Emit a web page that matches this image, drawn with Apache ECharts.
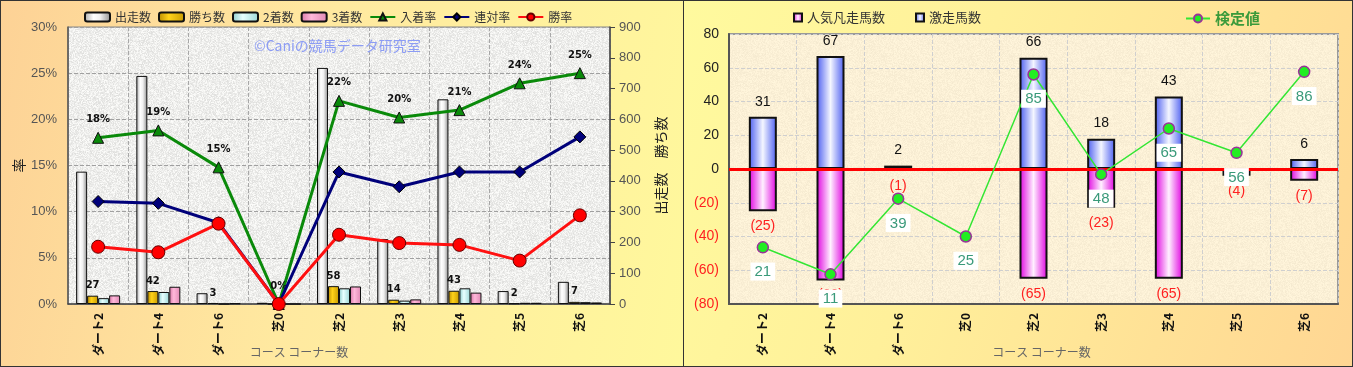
<!DOCTYPE html>
<html><head><meta charset="utf-8">
<script src="https://cdn.jsdelivr.net/npm/echarts@6/dist/echarts.min.js"></script>
<style>
html,body{margin:0;padding:0;width:1353px;height:367px;overflow:hidden;background:#fff;}
#c1{position:absolute;left:0;top:0;width:682px;height:365px;border:1px solid #333;
 background:linear-gradient(100deg,#FDD296 0%,#FFE9A0 45%,#FFF89C 100%);}
#c2{position:absolute;left:683px;top:0;width:668px;height:365px;border:1px solid #333;
 background:linear-gradient(110deg,#FFFA9E 0%,#FFF09A 40%,#FFD693 100%);}
</style></head>
<body><div id="c1"></div><div id="c2"></div>
<script>
// ---- data ----
const categories = ['ダート2','ダート4','ダート6','芝0','芝2','芝3','芝4','芝5','芝6'];
const starts  = [430, 741, 35, 4, 767, 211, 665, 42, 72];
const wins    = [27, 42, 3, 0, 58, 14, 43, 2, 7];
const seconds = [19, 39, 0, 0, 51, 11, 51, 4, 6];
const thirds  = [28, 56, 2, 0, 57, 15, 37, 4, 5];
const placeRate  = [18.0, 18.8, 14.8, 0, 22.0, 20.2, 21.0, 23.9, 25.0];
const rentaiRate = [11.1, 10.9, 8.8, 0, 14.3, 12.7, 14.3, 14.3, 18.1];
const winRate    = [6.2, 5.6, 8.7, 0, 7.5, 6.6, 6.4, 4.7, 9.6];

const gekisou     = [31, 67, 2, 0, 66, 18, 43, 0, 6];
const ninkiBonsou = [-25, -66, -1, 0, -65, -23, -65, -4, -7];
const kenteichi   = [21, 11, 39, 25, 85, 48, 65, 56, 86];

// ---- textures (deterministic) ----
function texture(base, amp, seed){
  const N = 128;
  const cv = document.createElement('canvas'); cv.width = N; cv.height = N;
  const ctx = cv.getContext('2d'); const img = ctx.createImageData(N, N);
  for (let i = 0; i < N*N; i++){
    let h = Math.sin((i+seed)*12.9898 + (i%N)*78.233) * 43758.5453; h = h - Math.floor(h);
    const d = (h - 0.5) * amp;
    img.data[i*4] = Math.max(0,Math.min(255, base[0]+d));
    img.data[i*4+1] = Math.max(0,Math.min(255, base[1]+d));
    img.data[i*4+2] = Math.max(0,Math.min(255, base[2]+d));
    img.data[i*4+3] = 255;
  }
  ctx.putImageData(img, 0, 0);
  const cv2 = document.createElement('canvas'); cv2.width = N; cv2.height = N;
  const c2 = cv2.getContext('2d'); c2.filter = 'blur(0.6px)'; c2.drawImage(cv, 0, 0);
  return cv2;
}
const grayTex = texture([238,238,236], 30, 1);
const paperTex = texture([251,240,214], 12, 7);

const JP = "'Noto Sans CJK JP', sans-serif";
const ARIAL = "'Liberation Sans', Arial, sans-serif";

function hgrad(stops){
  return new echarts.graphic.LinearGradient(0,0,1,0, stops.map(c=>({offset:c[0], color:c[1]})));
}

// ---- left chart ----
const ch1 = echarts.init(document.getElementById('c1'), null, {renderer:'canvas'});
const barBase = {type:'bar', yAxisIndex:1, barWidth:11, barGap:'0%', barCategoryGap:'27%'};
ch1.setOption({
  animation:false,
  textStyle:{fontFamily:JP},
  legend:{left:78, top:5, itemGap:7, itemWidth:25, itemHeight:9,
    textStyle:{fontFamily:JP, fontSize:12, color:'#333'},
    data:[{name:'出走数',icon:'roundRect'},{name:'勝ち数',icon:'roundRect'},{name:'2着数',icon:'roundRect'},{name:'3着数',icon:'roundRect'},'入着率','連対率','勝率']},
  graphic:[{type:'text', left:253, top:38, z:1, style:{text:'©Caniの競馬データ研究室', fill:'#8C9CF4', font:"14px "+JP}}],
  grid:{left:67, right:73, top:26, bottom:62, outerBoundsMode:'none', containLabel:false,
    show:true, backgroundColor:{image:grayTex, repeat:'repeat'}, borderColor:'#888', borderWidth:1},
  xAxis:{type:'category', data:categories, boundaryGap:true,
    name:'コース コーナー数', nameLocation:'middle', nameGap:42, nameMoveOverlap:false,
    nameTextStyle:{fontFamily:JP, fontSize:12, color:'#666', padding:[0,80,0,0]},
    axisLine:{lineStyle:{color:'#444', width:1.5}}, axisTick:{show:false},
    axisLabel:{rotate:90, margin:9, fontFamily:JP, fontSize:12, fontWeight:'bold', color:'#111'},
    splitLine:{show:true, lineStyle:{type:'dashed', color:'#A8A8A8'}}},
  yAxis:[
    {type:'value', min:0, max:30, interval:5,
     name:'率', nameLocation:'middle', nameGap:42, nameRotate:90, nameMoveOverlap:false,
     nameTextStyle:{fontFamily:JP, fontSize:14, color:'#222'},
     axisLine:{show:true, lineStyle:{color:'#555', width:1.5}}, axisTick:{show:false},
     axisLabel:{formatter:'{value}%', fontFamily:ARIAL, fontSize:13, color:'#555', margin:11},
     splitLine:{show:true, lineStyle:{type:'dashed', color:'#A0A0A0'}}},
    {type:'value', min:0, max:900, interval:100, position:'right',
     name:'出走数　勝ち数', nameLocation:'middle', nameGap:44, nameRotate:90, nameMoveOverlap:false,
     nameTextStyle:{fontFamily:JP, fontSize:14, color:'#222'},
     axisLine:{show:true, lineStyle:{color:'#444', width:1.5}},
     axisTick:{show:true, length:5, lineStyle:{color:'#444'}},
     axisLabel:{fontFamily:ARIAL, fontSize:13, color:'#555', margin:9},
     splitLine:{show:false}}
  ],
  series:[
    Object.assign({}, barBase, {name:'出走数', data:starts,
      itemStyle:{color:hgrad([[0,'#A8A8A8'],[0.35,'#FFFFFF'],[0.6,'#F0F0F0'],[1,'#8C8C8C']]), borderColor:'#111', borderWidth:1}}),
    Object.assign({}, barBase, {name:'勝ち数', data:wins,
      itemStyle:{color:hgrad([[0,'#B88A00'],[0.4,'#FFD21A'],[1,'#C89A00']]), borderColor:'#111', borderWidth:1},
      label:{show:true, position:'top', distance:5, fontFamily:"'DejaVu Sans', sans-serif", fontSize:10, fontWeight:'bold', color:'#111',
        formatter:p=>p.value===0?'':String(p.value)}}),
    Object.assign({}, barBase, {name:'2着数', data:seconds,
      itemStyle:{color:hgrad([[0,'#8CCCCC'],[0.4,'#E8FFFF'],[1,'#9AD6D6']]), borderColor:'#111', borderWidth:1}}),
    Object.assign({}, barBase, {name:'3着数', data:thirds,
      itemStyle:{color:hgrad([[0,'#D878A8'],[0.4,'#FFB8DA'],[1,'#E088B4']]), borderColor:'#111', borderWidth:1}}),
    {name:'入着率', type:'line', yAxisIndex:0, data:placeRate, z:5,
     lineStyle:{color:'#0A8A0A', width:3}, symbol:'triangle', symbolSize:11,
     itemStyle:{color:'#0A8A0A', borderColor:'#111', borderWidth:1},
     label:{show:true, position:'top', distance:7, fontFamily:"'DejaVu Sans', sans-serif", fontSize:10, fontWeight:'bold', color:'#111',
       formatter:p=>Math.round(p.value)+'%'}},
    {name:'連対率', type:'line', yAxisIndex:0, data:rentaiRate, z:6,
     lineStyle:{color:'#00007A', width:3}, symbol:'diamond', symbolSize:12,
     itemStyle:{color:'#00007A', borderColor:'#000', borderWidth:1}},
    {name:'勝率', type:'line', yAxisIndex:0, data:winRate, z:7,
     lineStyle:{color:'#FF1010', width:3}, symbol:'circle', symbolSize:13,
     itemStyle:{color:'#FF0000', borderColor:'#600', borderWidth:1}}
  ]
});

// ---- right chart ----
const ch2 = echarts.init(document.getElementById('c2'), null, {renderer:'canvas'});
ch2.setOption({
  animation:false,
  textStyle:{fontFamily:JP},
  legend:[
    {left:104, top:5, itemGap:30, itemWidth:8, itemHeight:8, icon:'rect',
     textStyle:{fontFamily:JP, fontSize:13, color:'#333'}, data:['人気凡走馬数','激走馬数']},
    {left:496, top:5, itemWidth:24, itemHeight:10,
     textStyle:{fontFamily:JP, fontSize:15, fontWeight:'bold', color:'#3A9A3A'}, data:['検定値']}
  ],
  grid:{left:45, right:14, top:33, bottom:62, outerBoundsMode:'none', containLabel:false,
    show:true, backgroundColor:{image:paperTex, repeat:'repeat'}, borderColor:'#999', borderWidth:2},
  xAxis:{type:'category', data:categories,
    name:'コース コーナー数', nameLocation:'middle', nameGap:42, nameMoveOverlap:false,
    nameTextStyle:{fontFamily:JP, fontSize:12, color:'#666', padding:[0,0,0,16]},
    axisLine:{onZero:false, lineStyle:{color:'#555', width:2}}, axisTick:{show:false},
    axisLabel:{rotate:90, margin:9, fontFamily:JP, fontSize:12, fontWeight:'bold', color:'#111'},
    splitLine:{show:true, lineStyle:{type:'dashed', color:'#CFCFCF'}}},
  yAxis:[
    {type:'value', min:-80, max:80, interval:20,
     axisLine:{show:true, lineStyle:{color:'#555', width:2}}, axisTick:{show:false},
     axisLabel:{margin:10, fontFamily:ARIAL, fontSize:14, color:'#222',
       formatter:v=> v<0 ? '{n|('+(-v)+')}' : String(v),
       rich:{n:{color:'#FF2020', fontFamily:ARIAL, fontSize:14}}},
     splitLine:{show:true, lineStyle:{type:'dashed', color:'#CFCFCF'}}},
    {type:'value', min:0, max:100, show:false, splitLine:{show:false}}
  ],
  series:[
    {name:'人気凡走馬数', type:'bar', data:ninkiBonsou, barWidth:28, barGap:'-100%',
     itemStyle:{color:hgrad([[0,'#E000E0'],[0.5,'#FFF0FF'],[1,'#E000E0']]), borderColor:'#111', borderWidth:2},
     label:{show:true, position:'bottom', distance:8, fontFamily:ARIAL, fontSize:14, color:'#FF2020',
       formatter:p=>p.value===0?'':'('+(-p.value)+')'},
     markLine:{silent:true, symbol:'none', label:{show:false}, lineStyle:{color:'#FF0000', width:3, type:'solid'}, data:[{yAxis:0}]}},
    {name:'激走馬数', type:'bar', data:gekisou, barWidth:28, barGap:'-100%',
     itemStyle:{color:hgrad([[0,'#4A5CF0'],[0.5,'#F4F6FF'],[1,'#4A5CF0']]), borderColor:'#111', borderWidth:2},
     label:{show:true, position:'top', distance:8, fontFamily:ARIAL, fontSize:14, color:'#111',
       formatter:p=>p.value===0?'':String(p.value)}},
    {name:'検定値', type:'line', yAxisIndex:1, data:kenteichi, z:10,
     lineStyle:{color:'#33E633', width:1.5}, symbol:'circle', symbolSize:11,
     itemStyle:{color:'#22EE22', borderColor:'#993399', borderWidth:1.5},
     label:{show:true, position:'bottom', distance:9, fontFamily:ARIAL, fontSize:15, color:'#3A9A7A',
       backgroundColor:'#FFFFFF', padding:[2,4,1,4]}}
  ]
});
</script></body></html>
